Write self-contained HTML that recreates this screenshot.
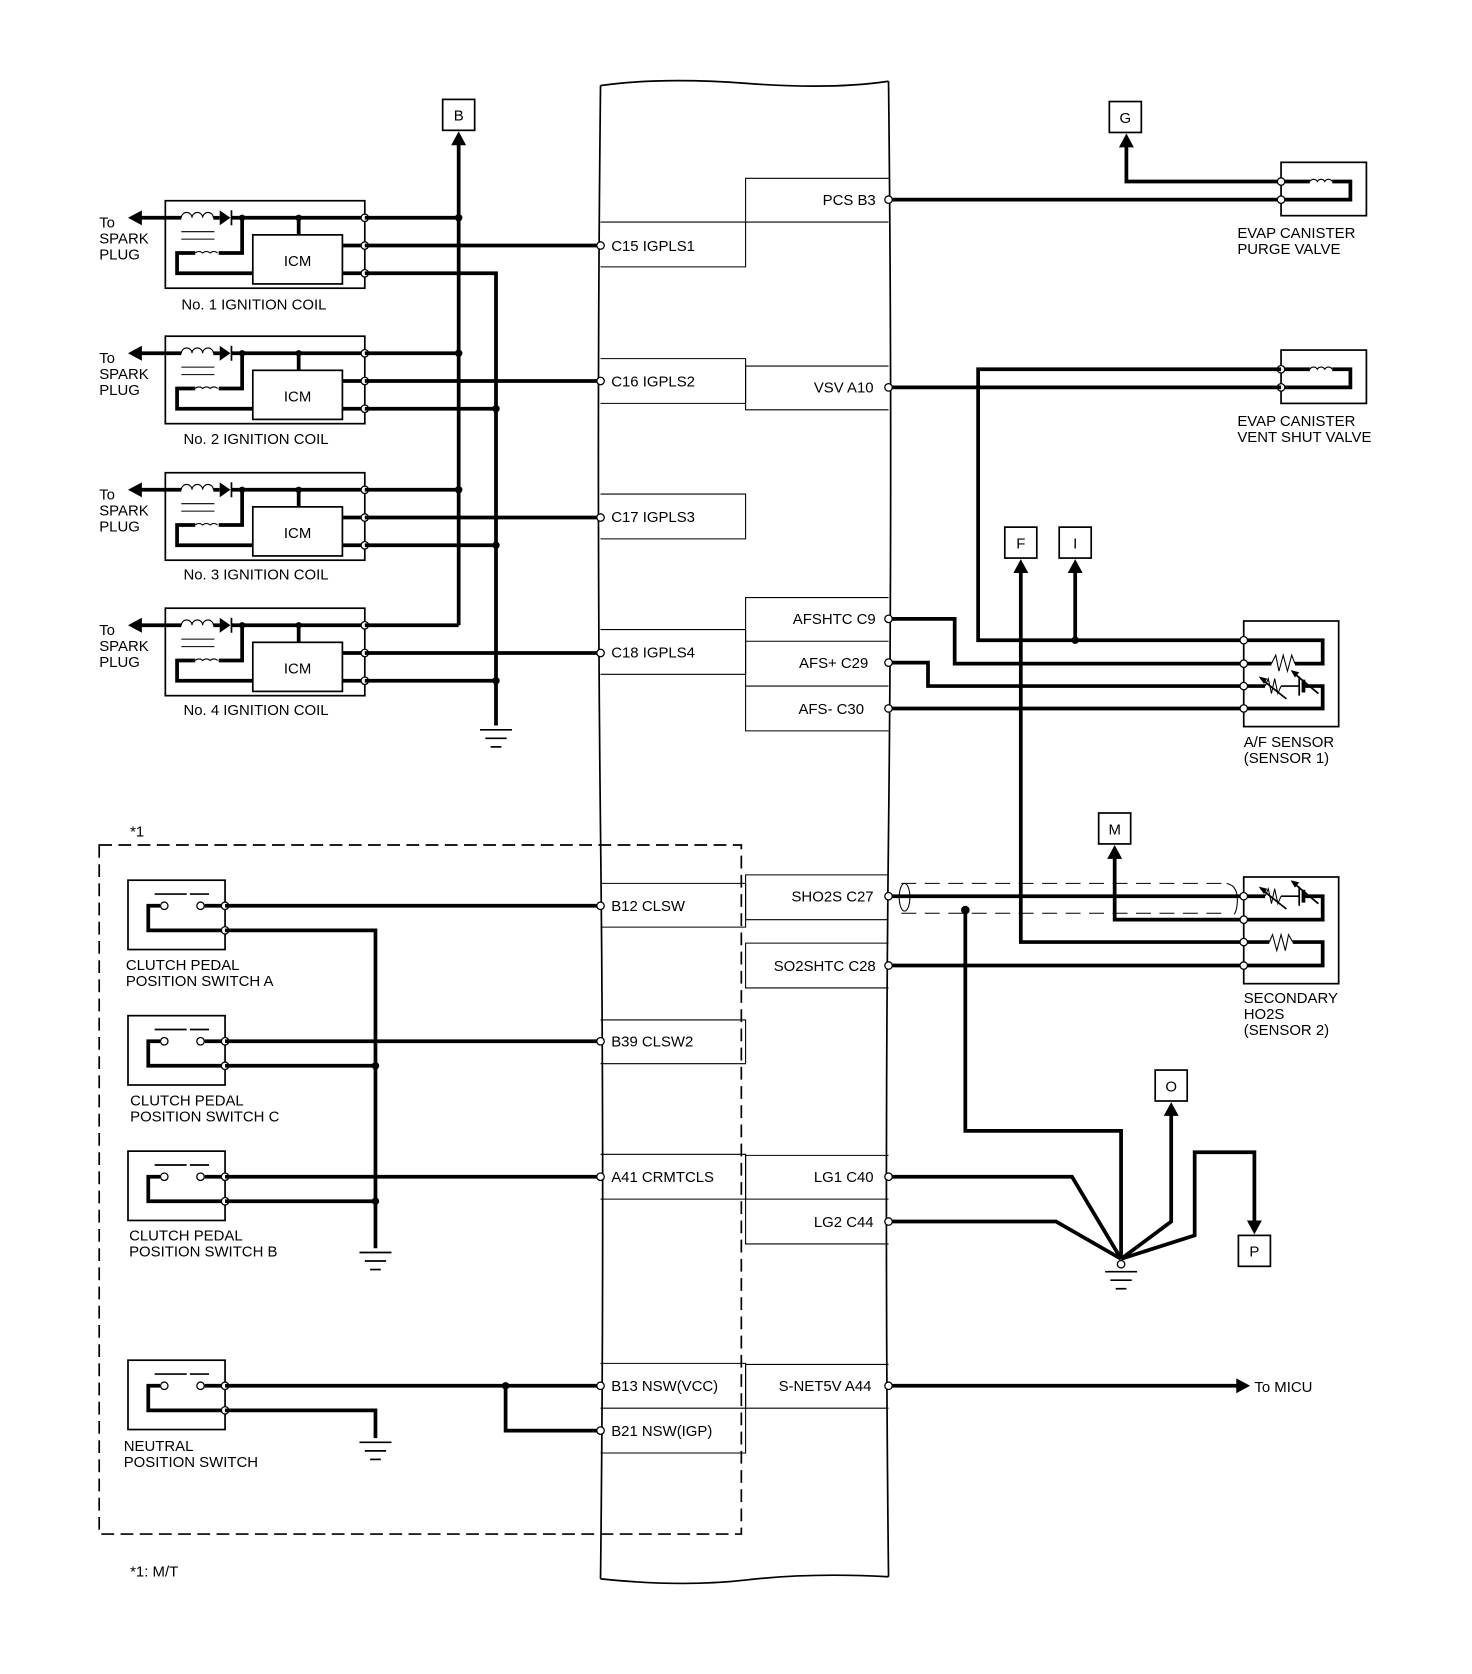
<!DOCTYPE html>
<html><head><meta charset="utf-8"><style>
html,body{margin:0;padding:0;background:#fff;}
svg{display:block;}
text{font-family:"Liberation Sans",Arial,sans-serif;font-size:14px;fill:#000;}
.t{stroke:#000;stroke-width:3.5;fill:none;}
.n{stroke:#000;stroke-width:1.6;fill:none;}
.h{stroke:#000;stroke-width:1;fill:none;}
.p{fill:#fff;stroke:#000;stroke-width:1.2;}
.d{fill:#000;}
</style></head><body>
<svg width="1472" height="1674" viewBox="0 0 1380 1569" xmlns="http://www.w3.org/2000/svg">
<defs>
<g id="coil">
 <rect x="155" y="188" width="187" height="82" class="n"/>
 <polygon points="120,204 133,197 133,211" class="d"/>
 <line x1="130" y1="204" x2="170" y2="204" class="t"/>
 <path d="M170,204 a5,5 0 0 1 10,0 a5,5 0 0 1 10,0 a5,5 0 0 1 10,0" class="h"/>
 <line x1="200" y1="204" x2="206" y2="204" class="t"/>
 <polygon points="206,197 206,211 216,204" class="d"/>
 <line x1="217" y1="197" x2="217" y2="211" class="n"/>
 <line x1="217" y1="204" x2="342" y2="204" class="t"/>
 <line x1="170" y1="217" x2="201" y2="217" class="h"/>
 <line x1="170" y1="224" x2="201" y2="224" class="h"/>
 <path d="M227,204 V237 H205" class="t"/>
 <path d="M183,237 a5,5 0 0 1 7,0 a5,5 0 0 1 7,0 a5,5 0 0 1 7,0" class="h"/>
 <path d="M183,237 H166 V256 H237" class="t"/>
 <line x1="280" y1="204" x2="280" y2="220" class="t"/>
 <circle cx="227" cy="204" r="3" class="d"/>
 <circle cx="280" cy="204" r="3" class="d"/>
 <rect x="237" y="220" width="84" height="46" class="n"/>
 <line x1="321" y1="230" x2="342" y2="230" class="t"/>
 <line x1="321" y1="256" x2="342" y2="256" class="t"/>
 <circle cx="342" cy="204" r="3.5" class="p"/>
 <circle cx="342" cy="230" r="3.5" class="p"/>
 <circle cx="342" cy="256" r="3.5" class="p"/>
</g>
<g id="sw">
 <rect x="120" y="825" width="91" height="65" class="n"/>
 <path d="M211,872 H139 V849 H150" class="t"/>
 <line x1="192" y1="849" x2="211" y2="849" class="t"/>
 <circle cx="154" cy="849" r="3.5" class="p"/>
 <circle cx="188" cy="849" r="3.5" class="p"/>
 <line x1="145" y1="838" x2="175" y2="838" class="n"/>
 <line x1="178" y1="838" x2="196" y2="838" class="n"/>
 <circle cx="211" cy="849" r="3.5" class="p"/>
 <circle cx="211" cy="872" r="3.5" class="p"/>
</g>
<g id="gnd">
 <line x1="-15" y1="0" x2="15" y2="0" class="n"/>
 <line x1="-10" y1="8" x2="10" y2="8" class="n"/>
 <line x1="-5" y1="16" x2="5" y2="16" class="n"/>
</g>
<g id="valve">
 <rect x="1201" y="152" width="80" height="50" class="n"/>
 <path d="M1201,170 H1228" class="t"/>
 <path d="M1228,170 a4,4 0 0 1 7,0 a4,4 0 0 1 7,0 a4,4 0 0 1 7,0" class="h"/>
 <path d="M1249,170 H1266 V187 H1201" class="t"/>
 <circle cx="1201" cy="170" r="3.5" class="p"/>
 <circle cx="1201" cy="187" r="3.5" class="p"/>
</g>
</defs>

<!-- ECM body -->
<path d="M563,80 Q620,72 700,78 T833,76" class="n"/>
<path d="M563,80 Q559,430 563,780 T563,1480" class="n"/>
<path d="M833,76 Q837,430 833,780 T833,1478" class="n"/>
<path d="M563,1480 Q640,1488 700,1481 T833,1478" class="n"/>

<!-- left pin boxes -->
<g class="h" stroke-width="1">
<path d="M563,208 H699 V250 H563"/>
<path d="M563,336 H699 V378 H563"/>
<path d="M563,463 H699 V505 H563"/>
<path d="M563,590 H699 V632 H563"/>
<path d="M563,828 H699 V869 H563"/>
<path d="M563,956 H699 V997 H563"/>
<path d="M563,1082 H699 V1124 H563"/>
<path d="M563,1278 H699 V1362 H563 M563,1320 H699"/>
<!-- right pin boxes -->
<path d="M833,167 H699 V208 H833"/>
<path d="M833,343 H699 V384 H833"/>
<path d="M833,560 H699 V685 H833 M699,601 H833 M699,643 H833"/>
<path d="M833,820 H699 V862 H833"/>
<path d="M833,884 H699 V926 H833"/>
<path d="M833,1083 H699 V1166 H833 M699,1124 H833"/>
<path d="M833,1279 H699 V1320 H833"/>
</g>
<text x="573" y="235">C15 IGPLS1</text>
<text x="573" y="362">C16 IGPLS2</text>
<text x="573" y="489">C17 IGPLS3</text>
<text x="573" y="616">C18 IGPLS4</text>
<text x="573" y="854">B12 CLSW</text>
<text x="573" y="981">B39 CLSW2</text>
<text x="573" y="1108">A41 CRMTCLS</text>
<text x="573" y="1304">B13 NSW(VCC)</text>
<text x="573" y="1346">B21 NSW(IGP)</text>
<g text-anchor="end">
<text x="821" y="192">PCS B3</text>
<text x="819" y="368">VSV A10</text>
<text x="821" y="585">AFSHTC C9</text>
<text x="814" y="626">AFS+ C29</text>
<text x="810" y="669">AFS- C30</text>
<text x="819" y="845">SHO2S C27</text>
<text x="821" y="910">SO2SHTC C28</text>
<text x="819" y="1108">LG1 C40</text>
<text x="819" y="1150">LG2 C44</text>
<text x="817" y="1304">S-NET5V A44</text>
</g>

<!-- ignition coils -->
<use href="#coil"/>
<use href="#coil" y="127"/>
<use href="#coil" y="255"/>
<use href="#coil" y="382"/>
<g>
<text x="93" y="213">To</text><text x="93" y="228">SPARK</text><text x="93" y="243">PLUG</text>
<text x="93" y="340">To</text><text x="93" y="355">SPARK</text><text x="93" y="370">PLUG</text>
<text x="93" y="468">To</text><text x="93" y="483">SPARK</text><text x="93" y="498">PLUG</text>
<text x="93" y="595">To</text><text x="93" y="610">SPARK</text><text x="93" y="625">PLUG</text>
</g>
<g text-anchor="middle">
<text x="279" y="249">ICM</text><text x="279" y="376">ICM</text><text x="279" y="504">ICM</text><text x="279" y="631">ICM</text>
</g>
<text x="170" y="290">No. 1 IGNITION COIL</text>
<text x="172" y="416">No. 2 IGNITION COIL</text>
<text x="172" y="543">No. 3 IGNITION COIL</text>
<text x="172" y="670">No. 4 IGNITION COIL</text>

<rect x="415" y="93" width="30" height="29" class="n"/><text x="430" y="113" text-anchor="middle">B</text>
<polygon points="430,123 423,136 437,136" class="d"/>
<line x1="430" y1="134" x2="430" y2="586" class="t"/>
<line x1="342" y1="204" x2="430" y2="204" class="t"/>
<line x1="342" y1="331" x2="430" y2="331" class="t"/>
<line x1="342" y1="459" x2="430" y2="459" class="t"/>
<line x1="342" y1="586" x2="430" y2="586" class="t"/>
<circle cx="430" cy="204" r="3.5" class="d"/><circle cx="430" cy="331" r="3.5" class="d"/><circle cx="430" cy="459" r="3.5" class="d"/>
<path d="M342,256 H465 V680" class="t"/>
<line x1="342" y1="383" x2="465" y2="383" class="t"/>
<line x1="342" y1="511" x2="465" y2="511" class="t"/>
<line x1="342" y1="638" x2="465" y2="638" class="t"/>
<circle cx="465" cy="383" r="3.5" class="d"/><circle cx="465" cy="511" r="3.5" class="d"/><circle cx="465" cy="638" r="3.5" class="d"/>
<use href="#gnd" x="465" y="684"/>
<line x1="342" y1="230" x2="563" y2="230" class="t"/>
<line x1="342" y1="357" x2="563" y2="357" class="t"/>
<line x1="342" y1="485" x2="563" y2="485" class="t"/>
<line x1="342" y1="612" x2="563" y2="612" class="t"/>

<!-- M/T switches -->
<rect x="93" y="792" width="602" height="646" class="n" stroke-dasharray="12,6"/>
<text x="122" y="784">*1</text>
<text x="122" y="1478">*1: M/T</text>
<use href="#sw"/>
<use href="#sw" y="127"/>
<use href="#sw" y="254"/>
<use href="#sw" y="450"/>
<text x="118" y="909">CLUTCH PEDAL</text><text x="118" y="924">POSITION SWITCH A</text>
<text x="122" y="1036">CLUTCH PEDAL</text><text x="122" y="1051">POSITION SWITCH C</text>
<text x="121" y="1163">CLUTCH PEDAL</text><text x="121" y="1178">POSITION SWITCH B</text>
<text x="116" y="1360">NEUTRAL</text><text x="116" y="1375">POSITION SWITCH</text>
<line x1="211" y1="849" x2="563" y2="849" class="t"/>
<line x1="211" y1="976" x2="563" y2="976" class="t"/>
<line x1="211" y1="1103" x2="563" y2="1103" class="t"/>
<path d="M211,872 H352 V1170" class="t"/>
<line x1="211" y1="999" x2="352" y2="999" class="t"/>
<line x1="211" y1="1126" x2="352" y2="1126" class="t"/>
<circle cx="352" cy="999" r="3.5" class="d"/><circle cx="352" cy="1126" r="3.5" class="d"/>
<use href="#gnd" x="352" y="1174"/>
<line x1="211" y1="1299" x2="563" y2="1299" class="t"/>
<path d="M474,1299 V1341 H563" class="t"/>
<circle cx="474" cy="1299" r="3.5" class="d"/>
<path d="M211,1322 H352 V1348" class="t"/>
<use href="#gnd" x="352" y="1352"/>

<!-- left pins -->
<g>
<circle cx="563" cy="230" r="3.5" class="p"/><circle cx="563" cy="357" r="3.5" class="p"/>
<circle cx="563" cy="485" r="3.5" class="p"/><circle cx="563" cy="612" r="3.5" class="p"/>
<circle cx="563" cy="849" r="3.5" class="p"/><circle cx="563" cy="976" r="3.5" class="p"/>
<circle cx="563" cy="1103" r="3.5" class="p"/><circle cx="563" cy="1299" r="3.5" class="p"/>
<circle cx="563" cy="1341" r="3.5" class="p"/>
</g>

<!-- right side: valves -->
<rect x="1040" y="95" width="30" height="29" class="n"/><text x="1055" y="115" text-anchor="middle">G</text>
<polygon points="1056,125 1049,138 1063,138" class="d"/>
<path d="M1056,136 V170 H1201" class="t"/>
<line x1="833" y1="187" x2="1201" y2="187" class="t"/>
<use href="#valve"/>
<text x="1160" y="223">EVAP CANISTER</text><text x="1160" y="238">PURGE VALVE</text>
<use href="#valve" y="176"/>
<text x="1160" y="399">EVAP CANISTER</text><text x="1160" y="414">VENT SHUT VALVE</text>
<path d="M1201,346 H917 V600 H1166" class="t"/>
<line x1="833" y1="363" x2="1201" y2="363" class="t"/>

<!-- F, I -->
<rect x="942" y="494" width="30" height="29" class="n"/><text x="957" y="514" text-anchor="middle">F</text>
<rect x="993" y="494" width="30" height="29" class="n"/><text x="1008" y="514" text-anchor="middle">I</text>
<polygon points="957,524 950,537 964,537" class="d"/>
<polygon points="1008,524 1001,537 1015,537" class="d"/>
<line x1="1008" y1="535" x2="1008" y2="600" class="t"/>
<circle cx="1008" cy="600" r="3.5" class="d"/>
<path d="M957,535 V883 H1166" class="t"/>

<!-- A/F sensor -->
<path d="M833,580 H895 V622 H1166" class="t"/>
<path d="M833,621 H870 V643 H1166" class="t"/>
<line x1="833" y1="664" x2="1166" y2="664" class="t"/>
<rect x="1166" y="582" width="89" height="99" class="n"/>
<path d="M1166,600 H1240 V622 H1214" class="t"/>
<polyline points="1214,622 1211,614 1207,629 1203,614 1199,629 1196,614 1192,622" class="h"/>
<path d="M1192,622 H1166" class="t"/>
<path d="M1166,643 H1186" class="t"/>
<polyline points="1186,643 1189,636 1192,650 1195,636 1198,650 1201,643" class="h"/>
<line x1="1182" y1="636" x2="1206" y2="655" class="n"/>
<polygon points="1180,634 1188,636 1185,641" class="d"/>
<line x1="1201" y1="643" x2="1218" y2="643" class="n"/>
<line x1="1218" y1="634" x2="1218" y2="652" class="n"/>
<line x1="1222" y1="637" x2="1222" y2="649" class="t" stroke-width="2.5"/>
<line x1="1212" y1="630" x2="1236" y2="650" class="n"/>
<polygon points="1210,628 1218,630 1214,635" class="d"/>
<path d="M1222,643 H1240 V664 H1166" class="t"/>
<circle cx="1166" cy="600" r="3.5" class="p"/><circle cx="1166" cy="622" r="3.5" class="p"/>
<circle cx="1166" cy="643" r="3.5" class="p"/><circle cx="1166" cy="664" r="3.5" class="p"/>
<text x="1166" y="700">A/F SENSOR</text><text x="1166" y="715">(SENSOR 1)</text>

<!-- M, secondary HO2S -->
<rect x="1030" y="762" width="30" height="29" class="n"/><text x="1045" y="782" text-anchor="middle">M</text>
<polygon points="1045,792 1038,805 1052,805" class="d"/>
<path d="M1045,803 V862 H1166" class="t"/>
<line x1="833" y1="840" x2="1166" y2="840" class="t"/>
<line x1="845" y1="828" x2="1150" y2="828" class="h" stroke-dasharray="14,8"/>
<line x1="845" y1="856" x2="1150" y2="856" class="h" stroke-dasharray="14,8"/>
<ellipse cx="848" cy="841" rx="5" ry="13" class="h"/>
<path d="M1150,828 Q1160,830 1160,843 Q1160,853 1157,857" class="h"/>
<circle cx="905" cy="853" r="4" class="d"/>
<line x1="833" y1="905" x2="1166" y2="905" class="t"/>
<rect x="1166" y="822" width="89" height="100" class="n"/>
<path d="M1166,840 H1186" class="t"/>
<polyline points="1186,840 1189,833 1192,847 1195,833 1198,847 1201,840" class="h"/>
<line x1="1182" y1="833" x2="1206" y2="852" class="n"/>
<polygon points="1180,831 1188,833 1185,838" class="d"/>
<line x1="1201" y1="840" x2="1218" y2="840" class="n"/>
<line x1="1218" y1="831" x2="1218" y2="849" class="n"/>
<line x1="1222" y1="834" x2="1222" y2="846" class="t" stroke-width="2.5"/>
<line x1="1212" y1="827" x2="1236" y2="847" class="n"/>
<polygon points="1210,825 1218,827 1214,832" class="d"/>
<path d="M1222,840 H1240 V862 H1166" class="t"/>
<path d="M1166,883 H1190" class="t"/>
<polyline points="1190,883 1193,876 1197,891 1201,876 1205,891 1208,876 1212,883" class="h"/>
<path d="M1212,883 H1240 V905 H1166" class="t"/>
<circle cx="1166" cy="840" r="3.5" class="p"/><circle cx="1166" cy="862" r="3.5" class="p"/>
<circle cx="1166" cy="883" r="3.5" class="p"/><circle cx="1166" cy="905" r="3.5" class="p"/>
<text x="1166" y="940">SECONDARY</text><text x="1166" y="955">HO2S</text><text x="1166" y="970">(SENSOR 2)</text>

<!-- ground star -->
<path d="M905,853 V1060 H1051 V1180" class="t"/>
<path d="M833,1103 H1005 L1051,1180" class="t"/>
<path d="M833,1145 H990 L1051,1180" class="t"/>
<rect x="1083" y="1003" width="30" height="29" class="n"/><text x="1098" y="1023" text-anchor="middle">O</text>
<polygon points="1098,1033 1091,1046 1105,1046" class="d"/>
<path d="M1098,1044 V1145 L1051,1180" class="t"/>
<path d="M1051,1180 L1120,1158 V1080 H1176 V1146" class="t"/>
<polygon points="1176,1157 1169,1144 1183,1144" class="d"/>
<rect x="1161" y="1158" width="30" height="29" class="n"/><text x="1176" y="1178" text-anchor="middle">P</text>
<circle cx="1051" cy="1185" r="3.5" class="p"/>
<use href="#gnd" x="1051" y="1192"/>

<!-- S-NET -->
<line x1="833" y1="1299" x2="1160" y2="1299" class="t"/>
<polygon points="1172,1299 1159,1292 1159,1306" class="d"/>
<text x="1176" y="1305">To MICU</text>

<!-- right pins -->
<g>
<circle cx="833" cy="187" r="3.5" class="p"/><circle cx="833" cy="363" r="3.5" class="p"/>
<circle cx="833" cy="580" r="3.5" class="p"/><circle cx="833" cy="621" r="3.5" class="p"/>
<circle cx="833" cy="664" r="3.5" class="p"/><circle cx="833" cy="840" r="3.5" class="p"/>
<circle cx="833" cy="905" r="3.5" class="p"/><circle cx="833" cy="1103" r="3.5" class="p"/>
<circle cx="833" cy="1145" r="3.5" class="p"/><circle cx="833" cy="1299" r="3.5" class="p"/>
</g>
</svg>
</body></html>
